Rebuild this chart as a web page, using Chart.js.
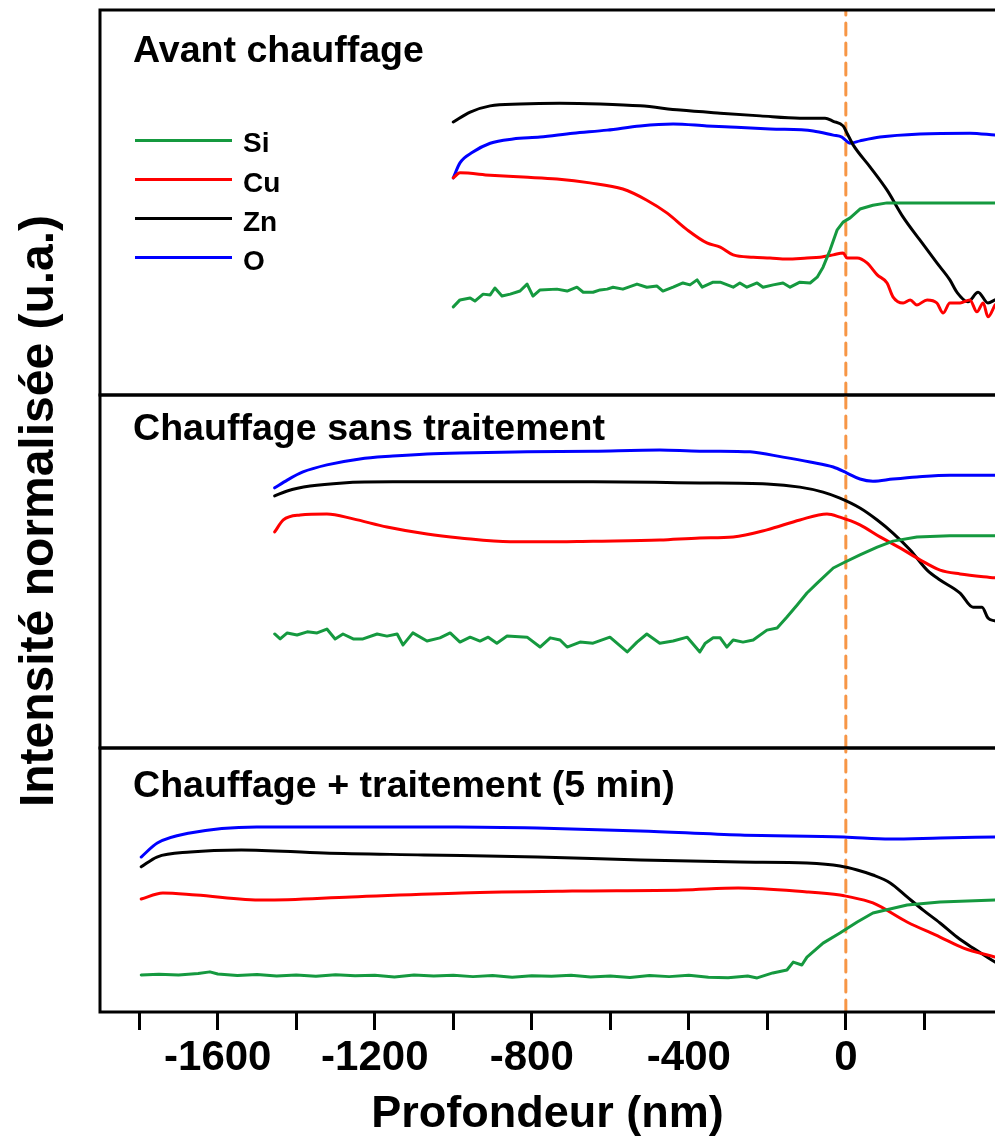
<!DOCTYPE html>
<html lang="fr">
<head>
<meta charset="utf-8">
<title>Profils en profondeur</title>
<script src="https://cdn.jsdelivr.net/npm/chart.js@4.4.0/dist/chart.umd.min.js"></script>
<style>
  body { margin: 0; background: #fff; }
  #page { position: relative; width: 995px; height: 1142px; overflow: hidden;
    font-family: 'Liberation Sans', Arial, sans-serif; font-weight: bold; color: #000; }
  canvas { position: absolute; left: 0; }
  .panel-title { position: absolute; left: 133px; font-size: 37.6px; line-height: 37px; white-space: nowrap; }
  .key-line { position: absolute; left: 135px; width: 97px; height: 3px; }
  .key-label { position: absolute; left: 243px; font-size: 28px; line-height: 28px; }
  #ytitle { position: absolute; left: -313px; top: 487px; width: 700px; text-align: center;
    font-size: 48px; line-height: 48px; transform: rotate(-90deg); white-space: nowrap; }
</style>
</head>
<body>
<div id="page">
  <canvas id="c1" width="995" height="400" style="top:0px"></canvas>
  <canvas id="c2" width="995" height="363" style="top:390px"></canvas>
  <canvas id="c3" width="995" height="399" style="top:743px"></canvas>

  <div class="panel-title" style="top:31px">Avant chauffage</div>
  <div class="panel-title" style="top:409px">Chauffage sans traitement</div>
  <div class="panel-title" style="top:766px">Chauffage + traitement (5 min)</div>

  <div id="key"></div>
  <div id="ytitle">Intensité normalisée (u.a.)</div>
</div>
<script>
Chart.defaults.font.family = "'Liberation Sans', Arial, sans-serif";

// x range visible in the picture (nm)
const xMin = -1900;
const xMax = 380;

const colors = { Si: '#15993f', Cu: '#ff0000', Zn: '#000000', O: '#0000ff' };
const markerColor = '#f79646';
const keyOrder = ['Si', 'Cu', 'Zn', 'O'];

// --- Avant chauffage ---
const avantSiDepth = [-1000,-983,-957,-945,-924,-906,-894,-876,-855,-830,-812,-797,-779,-736,-710,-685,-669,-644,-626,-608,-593,-568,-532,-507,-481,-466,-440,-415,-397,-379,-366,-338,-320,-287,-270,-252,-226,-211,-185,-160,-142,-117,-91,-73,-58,-40,-22,-7,11,36,69,105,189,274,380];
const avantSi = [22.9,24.7,25.2,24.4,26.2,26.0,27.8,25.7,26.2,27.0,28.8,25.7,27.3,27.5,27.0,28.0,26.7,26.7,27.3,27.5,28.0,27.5,28.8,28.0,28.3,27.0,28.0,29.1,28.6,29.9,28.0,29.3,29.3,28.0,29.1,28.0,29.1,28.0,28.6,29.1,28.0,29.3,29.1,30.6,33.2,37.7,42.9,44.9,46.0,48.3,49.3,49.9,49.9,49.9,49.9];
const avantCuDepth = [-1000,-983,-906,-822,-736,-652,-568,-507,-456,-404,-354,-320,-287,-236,-193,-150,-99,-66,-32,-7,3,29,54,80,105,120,146,164,181,207,232,248,265,291,316,334,350,362,380];
const avantCu = [56.4,57.7,57.1,56.6,56.1,55.1,53.5,50.6,47.3,42.9,39.5,38.4,36.4,35.8,35.6,35.3,35.6,35.8,36.4,36.9,35.6,35.6,34.3,31.2,29.1,25.5,23.9,24.7,23.4,24.7,23.9,21.3,23.9,23.9,24.7,21.6,23.9,20.3,23.4];
const avantZnDepth = [-1000,-957,-906,-830,-729,-626,-524,-422,-320,-218,-117,-53,-32,-7,3,19,62,105,146,189,232,265,283,311,337,362,380];
const avantZn = [70.9,73.5,75.1,75.6,75.8,75.6,75.1,74.0,73.2,72.5,71.9,71.9,71.1,69.9,68.0,64.9,59.2,53.2,46.2,40.2,34.3,29.9,26.7,24.2,26.7,23.9,24.7];
const avantODepth = [-1000,-983,-950,-906,-848,-779,-695,-608,-524,-440,-354,-295,-193,-83,-32,-10,11,36,87,189,316,380];
const avantO = [56.4,60.3,63.1,65.4,66.5,67.0,68.0,68.8,69.9,70.4,69.9,69.6,69.1,68.6,67.5,67.0,65.4,66.0,67.0,67.8,68.0,67.5];

// --- Chauffage sans traitement ---
const sansSiDepth = [-1455,-1441,-1423,-1398,-1372,-1347,-1322,-1301,-1281,-1255,-1230,-1194,-1169,-1143,-1128,-1103,-1067,-1034,-1008,-983,-957,-932,-911,-889,-863,-812,-779,-753,-728,-710,-677,-644,-601,-557,-532,-507,-474,-440,-404,-372,-358,-338,-320,-303,-287,-262,-236,-201,-175,-150,-124,-99,-73,-32,-7,36,80,120,181,265,380];
const sansSi = [32.3,30.9,32.6,32.0,32.9,32.6,33.7,30.9,32.3,30.9,30.9,32.3,31.7,32.3,29.2,32.6,30.3,31.2,32.6,30.0,31.4,30.3,31.4,29.7,31.7,31.4,28.6,31.2,30.6,28.6,30.0,29.7,31.4,27.2,30.0,32.3,29.7,30.3,31.4,27.2,29.7,31.2,31.2,28.6,30.6,30.0,30.6,33.4,34.0,37.1,40.5,43.9,46.7,51.0,52.4,54.7,56.9,58.6,59.8,60.1,60.1];
const sansCuDepth = [-1455,-1433,-1390,-1322,-1255,-1169,-1067,-983,-855,-771,-644,-474,-372,-287,-201,-117,-48,-15,36,87,138,189,240,291,380];
const sansCu = [61.2,64.6,66.0,66.3,64.9,62.6,60.6,59.5,58.4,58.4,58.6,58.9,59.5,59.8,61.8,64.6,66.3,65.4,63.2,59.8,56.7,53.3,50.4,49.3,48.2];
const sansZnDepth = [-1455,-1423,-1365,-1281,-1154,-983,-812,-644,-372,-201,-117,-58,-15,36,80,120,164,207,240,291,324,347,362,380];
const sansZn = [71.4,72.8,74.2,75.1,75.4,75.4,75.4,75.4,75.1,74.8,73.9,72.5,70.8,68.0,64.6,60.9,56.1,50.4,47.6,43.9,39.9,39.9,36.8,36.0];
const sansODepth = [-1455,-1423,-1383,-1322,-1238,-1154,-1067,-983,-812,-644,-474,-372,-320,-244,-160,-91,-32,3,36,69,120,181,265,380];
const sansO = [73.7,75.9,78.2,80.2,81.9,82.7,83.3,83.6,83.9,84.1,84.4,84.1,84.1,83.9,82.4,81.0,79.6,77.9,76.2,75.6,76.2,76.8,77.3,77.3];

// --- Chauffage + traitement (5 min) ---
const minSiDepth = [-1795,-1750,-1700,-1650,-1620,-1600,-1550,-1500,-1450,-1400,-1350,-1300,-1250,-1200,-1150,-1100,-1050,-1000,-950,-900,-850,-800,-750,-700,-650,-600,-550,-500,-450,-400,-350,-300,-250,-226,-186,-150,-134,-112,-99,-58,-15,29,69,156,240,380];
const minSi = [14.0,14.3,14.0,14.6,15.2,14.4,13.8,14.2,13.6,14.0,13.5,14.1,13.7,13.9,13.3,14.0,13.6,13.9,13.4,13.8,13.2,13.7,13.5,13.9,13.3,13.6,13.1,13.8,13.4,13.9,13.2,13.0,13.6,12.9,14.8,15.9,18.9,17.8,20.8,26.1,29.9,34.1,37.5,40.5,41.7,42.4];
const minCuDepth = [-1795,-1740,-1655,-1484,-1260,-978,-697,-415,-274,-99,-15,0,69,156,240,300,380];
const minCu = [42.8,45.1,44.3,42.4,43.6,45.1,45.8,46.2,47.0,45.5,44.3,43.9,41.3,34.1,28.4,24.2,20.8];
const minZnDepth = [-1795,-1755,-1670,-1540,-1330,-1075,-785,-524,-269,-99,-15,29,69,113,156,197,240,283,324,380];
const minZn = [55.0,58.7,60.6,61.4,60.2,59.5,58.7,57.6,56.8,56.4,55.3,53.8,51.9,48.9,43.6,38.6,33.7,28.4,24.2,18.9];
const minODepth = [-1795,-1754,-1671,-1501,-1246,-991,-787,-524,-269,-5,113,240,380];
const minO = [58.7,64.0,67.8,70.1,70.1,70.1,69.7,68.6,67.0,66.3,65.5,65.9,66.3];

function pairs(depths, values) {
  return depths.map((d, i) => ({ x: d, y: values[i] }));
}

// box around each panel (no right side, the picture is cut there)
const framePlugin = {
  id: 'frame',
  afterDatasetsDraw(chart) {
    const { ctx, chartArea: a } = chart;
    ctx.save();
    ctx.strokeStyle = '#000';
    ctx.lineWidth = 3;
    ctx.beginPath();
    ctx.moveTo(a.right + 2, a.top);
    ctx.lineTo(a.left, a.top);
    ctx.lineTo(a.left, a.bottom);
    ctx.lineTo(a.right + 2, a.bottom);
    ctx.stroke();
    ctx.restore();
  },
};

const bottomAxis = {
  type: 'linear',
  min: xMin,
  max: xMax,
  border: { display: false },
  grid: { drawOnChartArea: false, drawTicks: true, tickLength: 18, tickWidth: 3, tickColor: '#000' },
  ticks: {
    stepSize: 200,
    includeBounds: false,
    autoSkip: false,
    maxRotation: 0,
    padding: 3,
    color: '#000',
    font: { size: 42, weight: 'bold' },
    callback: (v) => (v % 400 === 0 ? String(v) : ''),
  },
  title: {
    display: true,
    text: 'Profondeur (nm)',
    color: '#000',
    font: { size: 45, weight: 'bold', lineHeight: 1 },
    padding: { top: 0, bottom: 5 },
  },
  afterFit: (scale) => { scale.height = 130; },
};

function makePanel(id, series, padding, showAxis) {
  const datasets = series.map(([name, depths, values]) => ({
    label: name,
    data: pairs(depths, values),
    borderColor: colors[name],
    borderWidth: 3,
    // the Si signal is noisy: keep straight segments for it
    cubicInterpolationMode: name === 'Si' ? 'default' : 'monotone',
    tension: 0,
    order: 1,
  }));
  // depth 0 marker
  datasets.push({
    label: 'interface',
    data: [{ x: 0, y: 0 }, { x: 0, y: 100 }],
    borderColor: markerColor,
    borderWidth: 3,
    borderDash: [12, 8],
    order: 5,
  });

  return new Chart(document.getElementById(id), {
    type: 'line',
    data: { datasets },
    options: {
      responsive: false,
      animation: false,
      events: [],
      layout: { padding },
      elements: {
        point: { radius: 0 },
        line: { borderJoinStyle: 'round', borderCapStyle: 'round' },
      },
      plugins: { legend: { display: false }, tooltip: { enabled: false } },
      scales: {
        x: showAxis ? bottomAxis : { type: 'linear', display: false, min: xMin, max: xMax },
        y: { display: false, min: 0, max: 100 },
      },
    },
    plugins: [framePlugin],
  });
}

makePanel('c1', [
  ['Si', avantSiDepth, avantSi],
  ['Cu', avantCuDepth, avantCu],
  ['Zn', avantZnDepth, avantZn],
  ['O', avantODepth, avantO],
], { left: 100, right: 0, top: 10, bottom: 5 }, false);

makePanel('c2', [
  ['Si', sansSiDepth, sansSi],
  ['Cu', sansCuDepth, sansCu],
  ['Zn', sansZnDepth, sansZn],
  ['O', sansODepth, sansO],
], { left: 100, right: 0, top: 5, bottom: 5 }, false);

makePanel('c3', [
  ['Si', minSiDepth, minSi],
  ['Cu', minCuDepth, minCu],
  ['Zn', minZnDepth, minZn],
  ['O', minODepth, minO],
], { left: 100, right: 0, top: 5, bottom: 0 }, true);

// legend of the first panel
const key = document.getElementById('key');
keyOrder.forEach((name, i) => {
  const y = 140 + i * 39.3;
  const line = document.createElement('div');
  line.className = 'key-line';
  line.style.top = (y - 1.5) + 'px';
  line.style.background = colors[name];
  key.appendChild(line);
  const label = document.createElement('div');
  label.className = 'key-label';
  label.style.top = (y - 10.7) + 'px';
  label.textContent = name;
  key.appendChild(label);
});
</script>
</body>
</html>
